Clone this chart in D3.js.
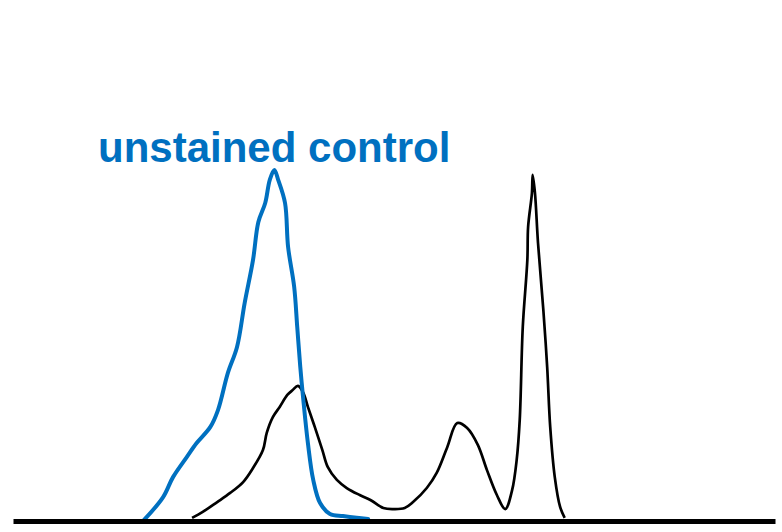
<!DOCTYPE html>
<html>
<head>
<meta charset="utf-8">
<script src="https://cdn.jsdelivr.net/npm/d3@7/dist/d3.min.js"></script>
<style>
  html, body { margin: 0; padding: 0; background: #fff; }
  svg { display: block; }
</style>
</head>
<body>
<svg id="chart" width="782" height="532"></svg>
<script>
// Fluorescence channel (0-1000) and relative cell count (0-100)
const unstainedChannel = [172,197,210,228,241,259,269,282,294,304,315,322,331,337,343,348,357,361,369,373,377,381,387,394,403,416,433,451,466];
const unstainedCount   = [0.3,6.8,12.5,18.2,22.2,26.8,31.6,42.2,49.6,62.1,74.4,85.2,90.6,97.2,100,97.2,90.6,78.1,66.7,55.3,43.9,34.5,22.2,11.7,5.1,2.0,1.4,0.9,0.6];

const stainedChannel = [235,249,268,285,302,315,328,333,341,350,360,367,374,381,387,396,406,413,425,438,455,469,486,499,514,525,543,556,570,583,596,610,622,635,646,655,661,665,669,675,676,681,682,685,689,696,701,705,711,718,724];
const stainedCount   = [0.9,2.6,5.4,8.0,11.1,15.1,20.2,25.1,29.6,32.5,35.9,37.3,38.5,36.5,32.5,26.8,20.2,15.4,11.7,9.4,7.4,6.0,3.7,3.4,3.7,5.4,9.4,13.7,21.1,27.9,26.5,21.7,14.5,7.4,3.4,8.8,17.4,28.8,55.3,74.4,83.8,93.4,98.6,93.4,79.2,60.1,43.9,26.8,12.5,4.0,0.9];

const labelText = "unstained control";

const svg = d3.select("#chart");
const x = d3.scaleLinear().domain([0, 1000]).range([13, 775]);
const y = d3.scaleLinear().domain([0, 100]).range([521, 170]);

const line = d3.line()
  .x(d => x(d[0]))
  .y(d => y(d[1]))
  .curve(d3.curveCatmullRom.alpha(0.5));

const stained = stainedChannel.map((c, i) => [c, stainedCount[i]]);
const unstained = unstainedChannel.map((c, i) => [c, unstainedCount[i]]);

svg.append("path")
  .datum(stained)
  .attr("d", line)
  .attr("fill", "none")
  .attr("stroke", "#000")
  .attr("stroke-width", 2.7)
  .attr("stroke-linejoin", "round");

svg.append("path")
  .datum(unstained)
  .attr("d", line)
  .attr("fill", "none")
  .attr("stroke", "#0070C0")
  .attr("stroke-width", 4)
  .attr("stroke-linejoin", "round")
  .attr("stroke-linecap", "round");

// baseline axis
const axis = d3.axisBottom(x).ticks(0).tickSizeOuter(0);
const g = svg.append("g").attr("transform", `translate(0,${y(0)})`).call(axis);
g.select(".domain").attr("stroke", "#000").attr("stroke-width", 5);
g.selectAll("text").remove();

svg.append("text")
  .attr("x", 98)
  .attr("y", 162)
  .attr("fill", "#0070C0")
  .attr("font-family", "'Liberation Sans', Arial, sans-serif")
  .attr("font-weight", "bold")
  .attr("font-size", 42)
  .text(labelText);
</script>
</body>
</html>
